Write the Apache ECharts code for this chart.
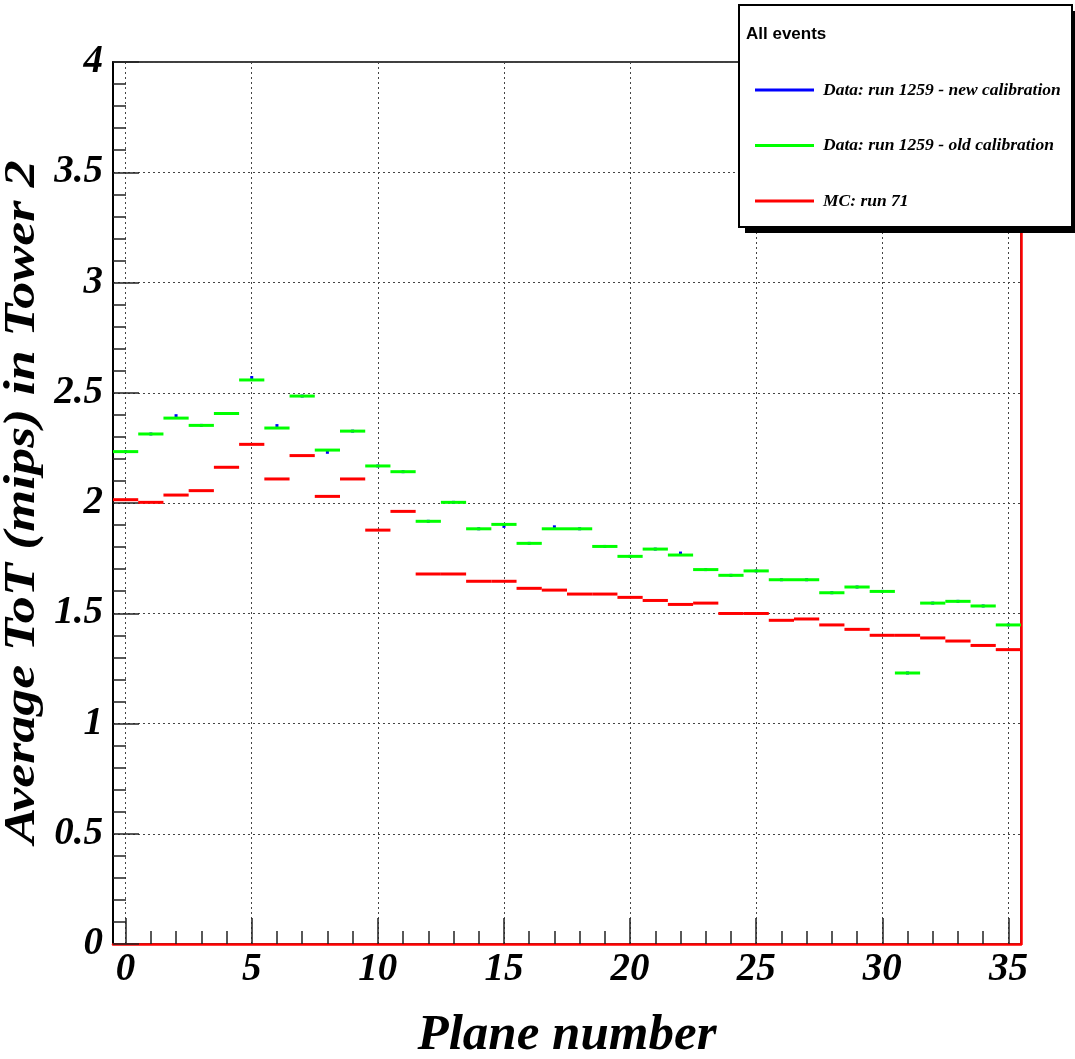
<!DOCTYPE html>
<html><head><meta charset="utf-8">
<script src="https://cdn.jsdelivr.net/npm/echarts@6/dist/echarts.min.js"></script>
<style>html,body{margin:0;padding:0;background:#fff}#c{width:1075px;height:1059px}</style>
</head><body><div id="c"></div>
<script>
// ---- data ----
const planes = [0,1,2,3,4,5,6,7,8,9,10,11,12,13,14,15,16,17,18,19,20,21,22,23,24,25,26,27,28,29,30,31,32,33,34,35];
const newCalibValues = [2.233,2.313,2.396,2.352,2.406,2.569,2.351,2.485,2.230,2.326,2.168,2.142,1.917,2.003,1.883,1.894,1.817,1.892,1.883,1.803,1.758,1.791,1.773,1.698,1.672,1.692,1.652,1.652,1.593,1.619,1.599,1.229,1.546,1.554,1.533,1.447];
const oldCalibValues = [2.233,2.313,2.385,2.352,2.406,2.558,2.340,2.485,2.240,2.326,2.168,2.142,1.917,2.003,1.883,1.903,1.817,1.883,1.883,1.803,1.758,1.791,1.764,1.698,1.672,1.692,1.652,1.652,1.593,1.619,1.599,1.229,1.546,1.554,1.533,1.447];
const mcValues = [2.015,2.003,2.036,2.056,2.162,2.266,2.109,2.215,2.030,2.109,1.877,1.962,1.678,1.678,1.645,1.645,1.613,1.605,1.587,1.587,1.572,1.558,1.540,1.546,1.499,1.499,1.468,1.474,1.447,1.427,1.400,1.400,1.388,1.374,1.354,1.335];
const xMajorTicks = [0,5,10,15,20,25,30,35];
const seriesNames = ['Data: run 1259 - new calibration','Data: run 1259 - old calibration','MC: run 71'];
const legendTitle = 'All events';
const xTitle = 'Plane number';
const yTitle = 'Average ToT (mips) in Tower 2';

const SERIF = "'Liberation Serif','Times New Roman',serif";
const SANS = "'Liberation Sans',Arial,sans-serif";

function binSegments(color){
  return function(params, api){
    const x = api.value(0), v = api.value(1);
    const p1 = api.coord([x-0.5, v]), p2 = api.coord([x+0.5, v]);
    return {type:'line', shape:{x1:p1[0],y1:p1[1],x2:p2[0],y2:p2[1]},
      style:{stroke:color,lineWidth:3,lineCap:'butt'}};
  };
}
function binMarkers(color){
  return function(params, api){
    const x = api.value(0), v = api.value(1);
    const p = api.coord([x, v]);
    return {type:'rect', shape:{x:p[0]-1.5,y:p[1]-1.5,width:3,height:3}, style:{fill:color}};
  };
}
const toData = vals => planes.map((p,i)=>[p, vals[i]]);

const labelStyle = {fontFamily:SERIF,fontWeight:'bold',fontStyle:'italic',fontSize:39,color:'#000'};

const chart = echarts.init(document.getElementById('c'), null, {renderer:'canvas'});
chart.setOption({
  animation:false,
  backgroundColor:'#fff',
  grid:{left:113,top:62,right:54,bottom:115,containLabel:false,outerBoundsMode:'none',
    show:true,borderColor:'#000',borderWidth:1.5,backgroundColor:'transparent'},
  xAxis:[{
    type:'value',min:-0.5,max:35.5,splitNumber:7,
    name:xTitle,nameLocation:'middle',nameGap:66,nameMoveOverlap:false,
    nameTextStyle:{fontFamily:SERIF,fontWeight:'bold',fontStyle:'italic',fontSize:51,color:'#000'},
    axisLine:{show:true,onZero:false,lineStyle:{color:'#ff0000',width:2.5}},
    axisTick:{show:true,inside:true,length:26,customValues:xMajorTicks,lineStyle:{color:'#222',width:1.5}},
    axisLabel:Object.assign({margin:6,customValues:xMajorTicks,formatter:v=>String(v)},labelStyle),
    splitLine:{show:true,lineStyle:{color:'#444',width:1,type:[2,3]}}
  },{
    type:'value',min:-0.5,max:35.5,position:'bottom',
    axisLine:{show:false,onZero:false},
    axisTick:{show:true,inside:true,length:13,customValues:planes,lineStyle:{color:'#222',width:1.5}},
    axisLabel:{show:false},splitLine:{show:false}
  }],
  yAxis:[{
    type:'value',min:0,max:4,interval:0.5,
    axisLine:{show:true,onZero:false,lineStyle:{color:'#000',width:2}},
    axisTick:{show:true,inside:true,length:26,lineStyle:{color:'#222',width:1.5}},
    minorTick:{show:true,splitNumber:5,length:13,lineStyle:{color:'#222',width:1.5}},
    axisLabel:Object.assign({margin:10,formatter:v=>String(v)},labelStyle),
    splitLine:{show:true,lineStyle:{color:'#444',width:1,type:[2,3]}},
    minorSplitLine:{show:false}
  },{
    type:'value',min:0,max:4,position:'right',
    axisLine:{show:true,onZero:false,lineStyle:{color:'#ff0000',width:2.5}},
    axisTick:{show:false},axisLabel:{show:false},splitLine:{show:false}
  }],
  legend:{
    show:true,orient:'vertical',left:750,top:76,z:20,
    icon:'rect',itemWidth:59,itemHeight:3,itemGap:37.5,
    selectedMode:false,
    textStyle:{fontFamily:SERIF,fontWeight:'bold',fontStyle:'italic',fontSize:17.5,lineHeight:14,color:'#000',padding:[0,0,0,4]},
    data:seriesNames
  },
  graphic:[
    {type:'text',z:5,x:22,y:502,rotation:Math.PI/2,scaleX:1.2,
      style:{text:yTitle,font:"italic bold 45px "+SERIF,fill:'#000',align:'center',verticalAlign:'middle'},silent:true},
    {type:'rect',z:10,shape:{x:745,y:11,width:333,height:222},style:{fill:'#000'},silent:true},
    {type:'rect',z:11,shape:{x:739,y:5,width:333,height:222},style:{fill:'#fff',stroke:'#000',lineWidth:2},silent:true},
    {type:'text',z:12,left:746,top:26,style:{text:legendTitle,font:"bold 17px "+SANS,fill:'#000'},silent:true}
  ],
  series:[
    {type:'custom',name:seriesNames[0],xAxisIndex:0,yAxisIndex:0,itemStyle:{color:'#0000ff'},
      renderItem:binMarkers('#0000ff'),data:toData(newCalibValues),encode:{x:0,y:1},clip:true,z:2},
    {type:'custom',name:seriesNames[1],xAxisIndex:0,yAxisIndex:0,itemStyle:{color:'#00ff00'},
      renderItem:binSegments('#00ff00'),data:toData(oldCalibValues),encode:{x:0,y:1},clip:true,z:3},
    {type:'custom',name:seriesNames[2],xAxisIndex:0,yAxisIndex:0,itemStyle:{color:'#ff0000'},
      renderItem:binSegments('#ff0000'),data:toData(mcValues),encode:{x:0,y:1},clip:true,z:3}
  ]
});
</script></body></html>
